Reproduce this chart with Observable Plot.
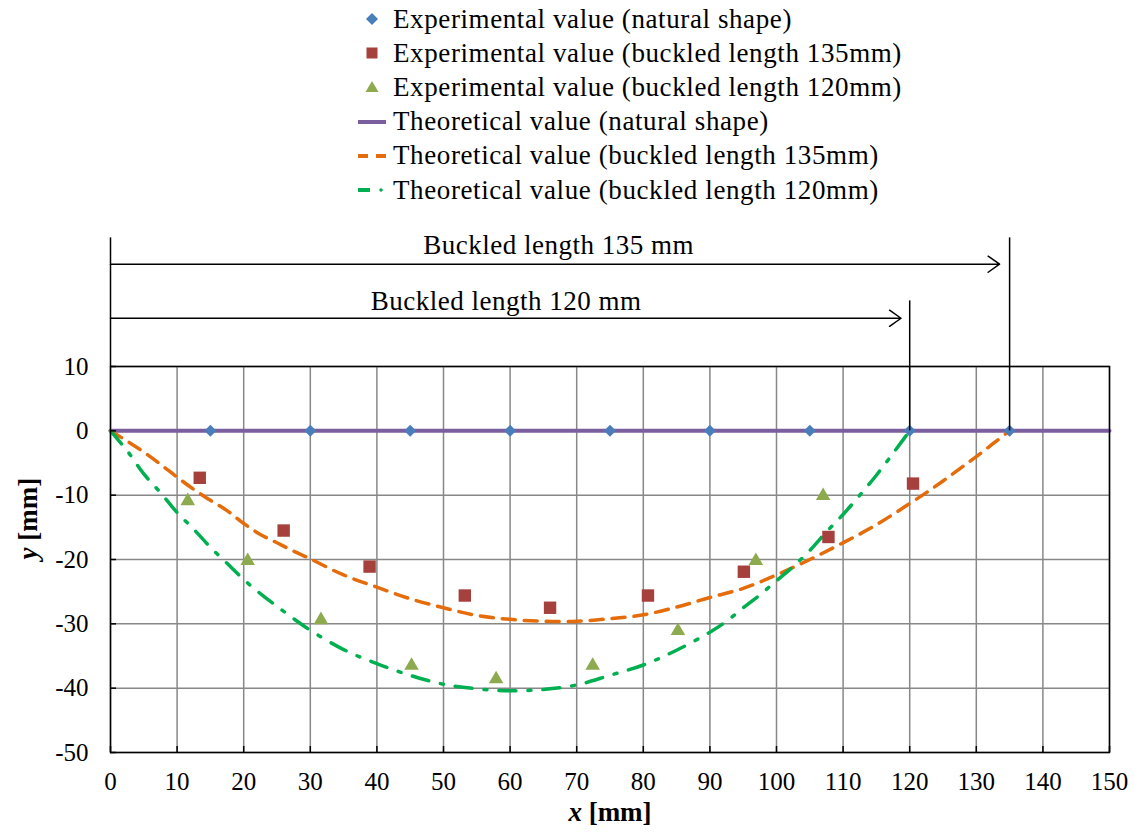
<!DOCTYPE html>
<html><head><meta charset="utf-8">
<script src="https://cdn.jsdelivr.net/npm/d3@7"></script>
<script src="https://cdn.jsdelivr.net/npm/@observablehq/plot@0.6"></script>
<style>
body{margin:0;background:#fff;font-family:"Times New Roman","Liberation Serif",Times,serif;color:#000;}
#legend{position:relative;height:212px;width:1135px;}
.row{position:absolute;left:354px;height:34px;display:flex;align-items:center;font-size:27px;letter-spacing:0.6px;white-space:nowrap;}
.row svg{width:36px;height:20px;margin-right:3px;flex:none;}
#chart svg{display:block;}
</style></head><body>
<div id="legend"></div>
<div id="chart"></div>
<script>
// ---- data ----
const xTicks = [0,10,20,30,40,50,60,70,80,90,100,110,120,130,140,150];
const yTicks = [10,0,-10,-20,-30,-40,-50];

const expNaturalX = [15,30,45,60,75,90,105,120,135];
const expNaturalY = [0,0,0,0,0,0,0,0,0];
const exp135X = [13.4,26.0,38.9,53.2,66.0,80.7,95.1,107.8,120.5];
const exp135Y = [-7.3,-15.5,-21.1,-25.6,-27.5,-25.6,-21.9,-16.5,-8.2];
const exp120X = [11.6,20.6,31.6,45.2,57.9,72.4,85.2,96.9,107.0];
const exp120Y = [-10.9,-20.2,-29.4,-36.5,-38.6,-36.5,-31.1,-20.2,-10.1];

const thNaturalX = [0,150];
const thNaturalY = [0,0];
const th135X = [0,2.5,5,7.5,10,12.5,15,17.5,20,22.5,25,27.5,30,35,40,45,50,55,60,65,70,75,80,85,90,95,100,105,110,115,120,122.5,125,127.5,130,132.5,135];
const th135Y = [0,-1.6,-3.3,-5.2,-7.2,-9.1,-10.8,-12.4,-14.4,-16.1,-17.4,-18.7,-19.9,-22.4,-24.3,-26.1,-27.5,-28.7,-29.3,-29.6,-29.6,-29.2,-28.6,-27.4,-25.9,-24.5,-22.4,-20.0,-17.4,-14.6,-11.3,-9.6,-7.8,-5.9,-4.0,-2.0,0];
const th120X = [0,2.5,5,7.5,10,12.5,15,17.5,20,22.5,25,27.5,30,35,40,45,50,55,60,65,70,75,80,85,90,92.5,95,97.5,100,102.5,105,107.5,110,112.5,115,117.5,120];
const th120Y = [0,-3.1,-6.7,-9.6,-12.7,-15.3,-18.1,-20.6,-23.1,-25.3,-27.3,-29.2,-31.0,-34.0,-36.2,-38.0,-39.4,-40.1,-40.4,-40.2,-39.5,-38.0,-36.4,-34.1,-31.3,-29.6,-27.5,-25.5,-23.3,-21.1,-18.6,-15.7,-13.0,-10.0,-6.9,-3.5,0];

// annotation (buckled-length markers), in data units
const guideX = [0,120,135];
const guideTop = [30,20.2,30];
const guideBottom = [10,0,0];
const arrowLabels = ["Buckled length 135 mm","Buckled length 120 mm"];
const arrowY = [25.9,17.5];
const arrowEnd = [133.5,118.7];
const labelX = [67.3,59.4];
const labelY = [28.8,20.1];

const legendLabels = [
  "Experimental value (natural shape)",
  "Experimental value (buckled length 135mm)",
  "Experimental value (buckled length 120mm)",
  "Theoretical value (natural shape)",
  "Theoretical value (buckled length 135mm)",
  "Theoretical value (buckled length 120mm)"
];

const C = {diamond:"#4A7EBB", square:"#A5403D", triangle:"#8DAA4F", purple:"#7A5E9E", orange:"#E46C0A", green:"#00B050"};
const FONT = '"Times New Roman","Liberation Serif",Times,serif';

const zip = (xs, ys) => xs.map((x,i)=>({x, y: ys[i]}));

// ---- legend ----
const legendSymbols = [
  `<path d="M18,4 L24,10 L18,16 L12,10 Z" fill="${C.diamond}"/>`,
  `<rect x="12.5" y="4.5" width="11" height="11" fill="${C.square}"/>`,
  `<path d="M18,4 L24.5,15 L11.5,15 Z" fill="${C.triangle}"/>`,
  `<line x1="4" y1="10" x2="32" y2="10" stroke="${C.purple}" stroke-width="4"/>`,
  `<line x1="4" y1="10" x2="32" y2="10" stroke="${C.orange}" stroke-width="4" stroke-dasharray="10,8"/>`,
  `<line x1="4" y1="10" x2="16" y2="10" stroke="${C.green}" stroke-width="4"/><circle cx="27" cy="10" r="1.8" fill="${C.green}"/>`
];
const leg = document.getElementById("legend");
legendLabels.forEach((t,i)=>{
  const r = document.createElement("div");
  r.className = "row";
  r.style.top = (2 + i*34.2) + "px";
  r.innerHTML = `<svg viewBox="0 0 36 20">${legendSymbols[i]}</svg><span>${t}</span>`;
  leg.appendChild(r);
});

// ---- chart ----
const chart = Plot.plot({
  width: 1135,
  height: 624,
  marginLeft: 110,
  marginRight: 26,
  marginTop: 154,
  marginBottom: 84,
  x: {domain: [0,150]},
  y: {domain: [-50,10]},
  style: {fontFamily: FONT, fontSize: "25px", color: "#000", background: "#fff", overflow: "visible"},
  marks: [
    Plot.gridX(xTicks, {stroke: "#888", strokeOpacity: 1, strokeWidth: 1.5}),
    Plot.gridY(yTicks, {stroke: "#888", strokeOpacity: 1, strokeWidth: 1.5}),
    Plot.line(zip(thNaturalX, thNaturalY), {x: "x", y: "y", stroke: C.purple, strokeWidth: 4}),
    Plot.line(zip(th135X, th135Y), {x: "x", y: "y", stroke: C.orange, strokeWidth: 3.5, strokeDasharray: "13,9", curve: "catmull-rom"}),
    Plot.line(zip(th120X, th120Y), {x: "x", y: "y", stroke: C.green, strokeWidth: 3.5, strokeDasharray: "17,12,3,12", curve: "catmull-rom"}),
    Plot.dot(zip(expNaturalX, expNaturalY), {x: "x", y: "y", symbol: "diamond2", r: 5.4, fill: C.diamond}),
    Plot.dot(zip(exp135X, exp135Y), {x: "x", y: "y", symbol: "square", r: 7, fill: C.square}),
    Plot.dot(zip(exp120X, exp120Y), {x: "x", y: "y", symbol: "triangle", r: 5.4, fill: C.triangle}),
    Plot.frame({stroke: "#000", strokeWidth: 1.5}),
    Plot.ruleX(guideX.map((x,i)=>({x, y1: guideBottom[i], y2: guideTop[i]})), {x: "x", y1: "y1", y2: "y2", stroke: "#000", strokeWidth: 1.5}),
    Plot.arrow(arrowY.map((y,i)=>({x1: 0, x2: arrowEnd[i], y})), {x1: "x1", x2: "x2", y1: "y", y2: "y", stroke: "#000", strokeWidth: 1.5, headLength: 14, headAngle: 70}),
    Plot.text(arrowLabels.map((t,i)=>({t, x: labelX[i], y: labelY[i]})), {x: "x", y: "y", text: "t", fontSize: 27, fill: "#000"}),
    Plot.axisX(xTicks, {tickSize: -6, tickPadding: 26, label: null, stroke: "#000", strokeWidth: 1.5, tickFormat: d => String(d)}),
    Plot.axisY(yTicks, {tickSize: -6, tickPadding: 28, label: null, stroke: "#000", strokeWidth: 1.5, tickFormat: d => String(d)}),
    Plot.text(["x [mm]"], {frameAnchor: "bottom", dy: 68, fontSize: 27, fontWeight: "bold", fill: "#000", text: d => d}),
    Plot.text(["y [mm]"], {frameAnchor: "left", dx: -82, rotate: -90, fontSize: 27, fontWeight: "bold", fill: "#000", text: d => d})
  ]
});
document.getElementById("chart").appendChild(chart);

// italic variable names in axis labels; slight letter spacing like the reference
d3.select(chart).selectAll("text").each(function(){
  const t = this.textContent;
  if (t === "x [mm]" || t === "y [mm]") {
    const s = d3.select(this);
    s.text(null);
    s.append("tspan").attr("font-style","italic").text(t[0]);
    s.append("tspan").text(t.slice(1));
  }
  if (t.startsWith("Buckled")) d3.select(this).attr("letter-spacing", "0.5px");
});
</script>
</body></html>
